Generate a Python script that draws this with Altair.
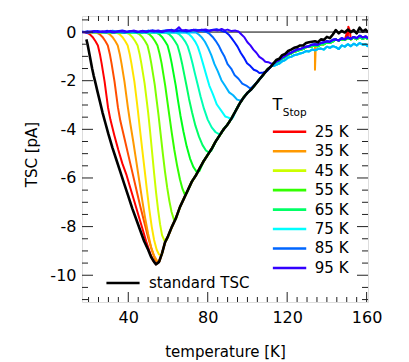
import altair as alt
import pandas as pd

FONT = "DejaVu Sans"
W, H = 286, 286
X_DOMAIN = [16.7, 160.7]
Y_DOMAIN = [-11.1, 0.66]

# ---------------- data ----------------
tstops = [25, 30, 35, 40, 45, 50, 55, 60, 65, 70, 75, 80, 85, 90, 95]
curve_colors = ["#ff0000", "#ff4d00", "#ff9900", "#ffe600", "#ccff00", "#80ff00", "#33ff00",
                "#00ff1a", "#00ff66", "#00ffb3", "#00ffff", "#00b3ff", "#0066ff", "#001aff", "#3300ff"]
tail_group = ["warm"] * 9 + ["cyan"] * 3 + ["blue"] * 3

legend_labels = ["25 K", "35 K", "45 K", "55 K", "65 K", "75 K", "85 K", "95 K"]
legend_colors = ["#ff0000", "#ff9900", "#ccff00", "#33ff00", "#00ff66", "#00ffff", "#0066ff", "#3300ff"]

# standard TSC, low-temperature flank
black_left = [(18.9, -0.3), (19.5, -0.5), (20.2, -0.8), (21.0, -1.15), (21.8, -1.5), (22.6, -1.8),
              (23.5, -2.1), (24.5, -2.45), (25.7, -2.85), (27.0, -3.3), (28.5, -3.75), (30.0, -4.2),
              (32.0, -4.75), (34.0, -5.25), (36.0, -5.75), (38.0, -6.25), (40.0, -6.75), (42.0, -7.25),
              (44.0, -7.7), (46.0, -8.15), (48.0, -8.6), (50.0, -8.95), (51.5, -9.25), (53.0, -9.45)]
# high-temperature flank shared by all curves after merging
flank = [(54, -9.55), (55.5, -9.45), (57, -9.1), (58.5, -8.65), (60, -8.4), (62, -8.0), (64, -7.65),
         (66, -7.2), (68, -6.85), (70, -6.5), (72, -6.15), (74, -5.9), (76, -5.6), (78, -5.3),
         (80, -5.05), (82, -4.8), (84, -4.5), (86, -4.25), (88, -4.0), (90, -3.8), (92, -3.55),
         (94, -3.25), (96, -2.95), (98, -2.7), (100, -2.5), (102, -2.35), (104, -2.15), (106, -1.95),
         (108, -1.75), (110, -1.55), (112, -1.4)]
tail_T = [113, 114.5, 116, 117.5, 119, 120.5, 122, 123.5, 125, 126.5, 128, 129.5, 131, 132.5, 134,
          135.5, 137, 138.5, 140, 141.5, 143, 144.5, 146, 147.5, 149, 150.5, 152, 153.5, 155, 156.5,
          158, 159.5, 160.7]
tail_black = [-1.3, -1.15, -1.1, -0.95, -0.9, -0.78, -0.72, -0.65, -0.62, -0.55, -0.55, -0.45, -0.42,
              -0.4, -0.38, -0.42, -0.3, -0.32, -0.2, -0.25, -0.1, 0.08, -0.05, 0.05, -0.02, 0.1, 0.0,
              0.08, -0.05, 0.18, 0.02, 0.1, -0.02]
tail_warm = [-1.35, -1.25, -1.2, -1.08, -1.02, -0.92, -0.88, -0.8, -0.78, -0.72, -0.7, -0.62, -0.6,
             -0.58, -0.55, -0.58, -0.5, -0.5, -0.42, -0.45, -0.38, -0.3, -0.35, -0.3, -0.32, -0.25,
             -0.3, -0.22, -0.3, -0.2, -0.28, -0.22, -0.3]
tail_cyan = [-1.4, -1.35, -1.3, -1.2, -1.15, -1.05, -1.02, -0.95, -0.92, -0.88, -0.85, -0.78, -0.8,
             -0.72, -0.75, -0.7, -0.68, -0.72, -0.6, -0.65, -0.58, -0.62, -0.7, -0.55, -0.6, -0.5,
             -0.58, -0.48, -0.55, -0.45, -0.52, -0.5, -0.6]
tail_blue = [-1.3, -1.22, -1.15, -1.05, -0.98, -0.9, -0.85, -0.78, -0.72, -0.7, -0.65, -0.6, -0.58,
             -0.52, -0.5, -0.52, -0.45, -0.42, -0.38, -0.4, -0.32, -0.3, -0.35, -0.25, -0.3, -0.22,
             -0.28, -0.2, -0.25, -0.15, -0.22, -0.18, -0.25]
spike_25 = [(150.0, -0.05), (150.8, 0.22), (151.6, 0.05)]
spike_35 = [(133.6, -0.55), (134.0, -1.55), (134.4, -0.6)]

c25 = [(16.8, 0.0), (19, -0.02), (20.5, -0.08), (22, -0.2), (23.5, -0.38), (24.7, -0.55), (25.7, -0.9),
       (26.6, -1.3), (27.4, -1.7), (28.1, -2.05), (29, -2.6), (29.8, -3.1), (31, -3.6), (33, -4.25),
       (35, -4.85), (37, -5.4), (39, -5.85), (41, -6.4), (43, -6.95), (45, -7.5), (47, -8.05),
       (49, -8.6), (51, -9.1), (52.5, -9.4), (54, -9.55)]
c30 = [(16.8, 0.0), (24, -0.02), (25.5, -0.08), (27, -0.2), (28.5, -0.38), (29.7, -0.55), (30.7, -0.9),
       (31.6, -1.3), (32.4, -1.7), (33.1, -2.05), (34, -2.6), (34.8, -3.1), (36, -3.65), (38, -4.35),
       (40, -5.05), (42, -5.75), (44, -6.45), (46, -7.15), (48, -7.8), (50, -8.45), (52, -9.0),
       (53.5, -9.35), (55, -9.5)]
c35 = [(16.8, 0.0), (29, -0.02), (30.5, -0.08), (32, -0.2), (33.5, -0.38), (34.7, -0.55), (35.7, -0.9),
       (36.6, -1.3), (37.4, -1.7), (38.1, -2.05), (39, -2.6), (39.8, -3.1), (41, -3.75), (42.5, -4.5),
       (44, -5.3), (45.5, -6.1), (47, -6.9), (48.5, -7.65), (50, -8.3), (51.5, -8.85), (53, -9.2),
       (54.5, -9.4), (55.8, -9.42)]
c40 = [(16.8, 0.0), (34, -0.02), (35.5, -0.08), (37, -0.2), (38.5, -0.38), (39.7, -0.55), (40.7, -0.9),
       (41.6, -1.3), (42.4, -1.7), (43.1, -2.05), (44, -2.65), (44.8, -3.2), (45.8, -3.95), (47, -4.8),
       (48.2, -5.65), (49.4, -6.5), (50.6, -7.3), (51.8, -8.0), (53, -8.55), (54.3, -8.95),
       (55.5, -9.15), (56.8, -9.18)]
c45 = [(16.8, 0.0), (39, -0.02), (40.5, -0.08), (42, -0.2), (43.5, -0.38), (44.7, -0.55), (45.7, -0.9),
       (46.6, -1.3), (47.4, -1.7), (48.2, -2.1), (49.1, -2.7), (50, -3.3), (51, -4.1), (52, -4.95),
       (53, -5.8), (54, -6.6), (55, -7.3), (56, -7.9), (57, -8.35), (58.3, -8.6), (59.3, -8.55)]
c50 = [(16.8, 0.0), (44, -0.02), (45.5, -0.08), (47, -0.2), (48.5, -0.38), (49.7, -0.55), (50.7, -0.9),
       (51.6, -1.3), (52.5, -1.75), (53.3, -2.15), (54.2, -2.75), (55.2, -3.4), (56.3, -4.2),
       (57.4, -5.0), (58.5, -5.75), (59.6, -6.4), (60.7, -6.95), (61.8, -7.4), (63, -7.72), (64, -7.7)]
c55 = [(16.8, 0.0), (49, -0.02), (50.5, -0.08), (52, -0.2), (53.5, -0.38), (54.7, -0.55), (55.8, -0.9),
       (56.8, -1.3), (57.7, -1.75), (58.6, -2.2), (59.6, -2.8), (60.7, -3.45), (61.9, -4.15),
       (63.2, -4.85), (64.6, -5.5), (66, -6.05), (67.3, -6.45), (68.5, -6.68), (69.5, -6.62)]
c60 = [(16.8, 0.0), (54, -0.02), (55.5, -0.08), (57, -0.2), (58.5, -0.38), (59.8, -0.55), (60.9, -0.9),
       (61.9, -1.3), (62.9, -1.75), (63.9, -2.2), (65, -2.8), (66.3, -3.45), (67.8, -4.1), (69.4, -4.7),
       (71.1, -5.2), (72.8, -5.55), (74.6, -5.77), (75.8, -5.72)]
c65 = [(16.8, 0.0), (59, -0.02), (60.5, -0.08), (62, -0.2), (63.5, -0.38), (64.8, -0.55), (66, -0.9),
       (67.1, -1.3), (68.2, -1.75), (69.3, -2.2), (70.6, -2.75), (72.1, -3.3), (73.8, -3.85),
       (75.6, -4.3), (77.4, -4.65), (79.1, -4.87), (80.6, -4.95), (81.8, -4.88)]
c70 = [(16.8, 0.0), (64, -0.02), (65.5, -0.08), (67, -0.2), (68.6, -0.38), (69.9, -0.58), (71.2, -0.92),
       (72.4, -1.3), (73.6, -1.72), (74.9, -2.15), (76.4, -2.65), (78.1, -3.15), (80, -3.6), (82, -3.92),
       (84, -4.12), (85.7, -4.2), (86.8, -4.15)]
c75 = [(16.8, 0.0), (69, -0.02), (70.5, -0.08), (72, -0.2), (73.6, -0.38), (75, -0.6), (76.4, -0.95),
       (77.8, -1.35), (79.2, -1.75), (80.8, -2.2), (82.6, -2.55), (84.6, -2.98), (86.7, -3.22),
       (88.8, -3.47), (90.5, -3.52), (91.8, -3.6), (92.8, -3.5)]
c80 = [(16.8, 0.0), (74, -0.02), (75.5, -0.1), (77, -0.22), (78.6, -0.4), (80.2, -0.65), (81.8, -0.95),
       (83.4, -1.32), (85.1, -1.62), (86.9, -1.98), (88.8, -2.22), (90.8, -2.48), (92.8, -2.6),
       (94.8, -2.78), (96.6, -2.82), (97.6, -2.76)]
c85 = [(16.8, 0.02), (20, -0.03), (23, 0.04), (26, 0.0), (29, -0.02), (32, 0.05), (35, 0.01), (38, -0.03),
       (41, 0.04), (44, 0.02), (47, -0.02), (50, 0.06), (53, 0.0), (56, 0.03), (59, 0.07), (62, 0.02),
       (65, 0.08), (68, 0.03), (71, 0.06), (74, 0.1), (77, 0.04),
       (79.5, 0.0), (81, -0.08), (82.5, -0.2), (84, -0.36), (85.5, -0.55), (87, -0.8), (88.5, -1.02),
       (90, -1.32), (91.8, -1.5), (93.6, -1.78), (95.5, -1.92), (97.4, -2.12), (99.4, -2.2),
       (101.4, -2.32), (102.5, -2.25)]
c90 = [(16.8, -0.02), (19.5, 0.03), (22, -0.01), (24.5, 0.04), (27, 0.0), (29.5, 0.05), (32, -0.02),
       (34.5, 0.03), (37, 0.06), (39.5, 0.01), (42, 0.04), (44.5, -0.01), (47, 0.05), (49.5, 0.02),
       (52, 0.07), (54.5, 0.03), (57, 0.0), (59.5, 0.06), (62, 0.09), (64.5, 0.04), (67, 0.07),
       (69.5, 0.02), (72, 0.08), (74.5, 0.05), (77, 0.1), (79.5, 0.04), (82, 0.08), (84.5, 0.12),
       (87, 0.05),
       (89, 0.0), (90.5, -0.1), (92, -0.25), (93.5, -0.42), (95, -0.6), (96.6, -0.85), (98.2, -1.05),
       (99.8, -1.28), (101.5, -1.4), (103.2, -1.55), (104.8, -1.6), (106, -1.68), (108, -1.66),
       (110, -1.6)]
c95 = [(16.8, 0.01), (19, -0.03), (21, 0.02), (23, 0.04), (25, -0.01), (27, 0.03), (29, 0.0), (31, 0.05),
       (33, -0.02), (35, 0.02), (37, 0.04), (39, 0.0), (41, 0.03), (43, 0.06), (45, 0.01), (47, 0.04),
       (49, -0.01), (51, 0.05), (53, 0.03), (55, 0.07), (57, 0.02), (59, 0.05), (61, 0.08), (63, 0.03),
       (64.5, 0.12), (65.5, 0.2), (67, 0.06), (69, 0.09), (71, 0.04), (73, 0.1), (75, 0.05), (77, 0.08),
       (79, 0.11), (81, 0.04), (83, 0.09), (85, 0.06), (87, 0.13), (88.5, 0.07), (90, 0.1), (92, 0.04),
       (94, 0.06),
       (95.5, 0.02), (97, -0.1), (98.5, -0.22), (100, -0.42), (101.5, -0.55), (103, -0.72),
       (104.5, -0.85), (106, -1.02), (107.5, -1.1), (109, -1.22), (110.5, -1.24), (112, -1.3)]
curves = [c25, c30, c35, c40, c45, c50, c55, c60, c65, c70, c75, c80, c85, c90, c95]
tails = {"warm": tail_warm, "cyan": tail_cyan, "blue": tail_blue}
spikes = {25: spike_25, 35: spike_35}

# tick positions
x_major = [40, 80, 120, 160]
x_minor = [20, 25, 30, 35, 45, 50, 55, 60, 65, 70, 75, 85, 90, 95, 100, 105, 110, 115, 125, 130,
           135, 140, 145, 150, 155]
y_major = [-10, -8, -6, -4, -2, 0]
y_minor = [-11, -10.5, -9.5, -9, -8.5, -7.5, -7, -6.5, -5.5, -5, -4.5, -3.5, -3, -2.5, -1.5, -1,
           -0.5, 0.5]


def assemble(own, tail_vals, extra=()):
    last = own[-1][0]
    pts = list(own)
    pts += [p for p in flank if last + 0.9 < p[0] < tail_T[0]]
    pts += [(t, v) for t, v in zip(tail_T, tail_vals) if t > last + 0.9]
    pts += list(extra)
    pts.sort(key=lambda p: p[0])
    return pd.DataFrame(pts, columns=["T", "I"])


# ---------------- encodings ----------------
x_scale = alt.Scale(domain=X_DOMAIN, nice=False, zero=False)
y_scale = alt.Scale(domain=Y_DOMAIN, nice=False, zero=False)

x_axis = alt.Axis(values=x_major, ticks=False, domain=False, grid=False, format="d",
                  labelFont=FONT, labelFontSize=16, labelColor="black", labelPadding=7,
                  labelFlush=False, labelOverlap=False,
                  title="temperature [K]", titleFont=FONT, titleFontSize=15,
                  titleFontWeight="normal", titleColor="black", titleY=54,
                  titleBaseline="alphabetic")
y_axis = alt.Axis(values=y_major, ticks=False, domain=False, grid=False,
                  labelExpr="datum.value < 0 ? '-' + (-datum.value) : '' + datum.value",
                  labelFont=FONT, labelFontSize=16, labelColor="black", labelPadding=6,
                  labelFlush=False, labelOverlap=False,
                  title="TSC [pA]", titleFont=FONT, titleFontSize=15, titleFontWeight="normal",
                  titleColor="black", titleX=-46, titleY=138, titleAngle=270,
                  titleAlign="center", titleBaseline="alphabetic")


def X(field):
    return alt.X(field, type="quantitative", scale=x_scale, axis=x_axis)


def Y(field):
    return alt.Y(field, type="quantitative", scale=y_scale, axis=y_axis)


layers = []

# zero line
zero_df = pd.DataFrame({"I": [0.0]})
layers.append(alt.Chart(zero_df).mark_rule(color="black", strokeWidth=1).encode(y=Y("I")))

# colored partial-heating curves
for s, col, grp, own in zip(tstops, curve_colors, tail_group, curves):
    df = assemble(own, tails[grp], spikes.get(s, ()))
    layers.append(alt.Chart(df).mark_line(color=col, strokeWidth=2, clip=True,
                                          strokeJoin="round").encode(x=X("T"), y=Y("I")))

# standard TSC
black_df = pd.DataFrame(black_left + flank + list(zip(tail_T, tail_black)), columns=["T", "I"])
layers.append(alt.Chart(black_df).mark_line(color="black", strokeWidth=2.6, clip=True,
                                            strokeJoin="round").encode(x=X("T"), y=Y("I")))

# inward ticks on all four sides
TICK = "#222222"
for vals, ln in ((y_major, 11), (y_minor, 6)):
    d = pd.DataFrame({"v": vals})
    layers.append(alt.Chart(d).mark_rule(color=TICK, strokeWidth=1).encode(
        y=Y("v"), x=alt.value(0), x2=alt.value(ln)))
    layers.append(alt.Chart(d).mark_rule(color=TICK, strokeWidth=1).encode(
        y=Y("v"), x=alt.value(W - ln), x2=alt.value(W)))
for vals, ln in ((x_major, 10), (x_minor, 5)):
    d = pd.DataFrame({"v": vals})
    layers.append(alt.Chart(d).mark_rule(color=TICK, strokeWidth=1).encode(
        x=X("v"), y=alt.value(H), y2=alt.value(H - ln)))
    layers.append(alt.Chart(d).mark_rule(color=TICK, strokeWidth=1).encode(
        x=X("v"), y=alt.value(0), y2=alt.value(ln)))

# legend (T_Stop)
LEG_X1, LEG_X2, LEG_TX = 112.8, 129.6, 133.9
LEG_TOP, LEG_STEP = -4.1, 0.8
leg_df = pd.DataFrame({
    "label": legend_labels,
    "x1": [LEG_X1] * len(legend_labels),
    "x2": [LEG_X2] * len(legend_labels),
    "tx": [LEG_TX] * len(legend_labels),
    "ly": [LEG_TOP - i * LEG_STEP for i in range(len(legend_labels))],
})
leg_color = alt.Color("label:N", scale=alt.Scale(domain=legend_labels, range=legend_colors),
                      legend=None)
layers.append(alt.Chart(leg_df).mark_rule(strokeWidth=2.6).encode(
    x=X("x1"), x2="x2", y=Y("ly"), color=leg_color))
layers.append(alt.Chart(leg_df).mark_text(align="left", baseline="middle", font=FONT,
                                          fontSize=15, color="black").encode(
    x=X("tx"), y=Y("ly"), text="label:N"))

title_df = pd.DataFrame({"x": [112.6], "y": [-3.21], "t": ["T"]})
sub_df = pd.DataFrame({"x": [117.8], "y": [-3.44], "t": ["Stop"]})
layers.append(alt.Chart(title_df).mark_text(align="left", baseline="alphabetic", font=FONT,
                                            fontSize=16, color="black").encode(
    x=X("x"), y=Y("y"), text="t:N"))
layers.append(alt.Chart(sub_df).mark_text(align="left", baseline="alphabetic", font=FONT,
                                          fontSize=10.5, color="black").encode(
    x=X("x"), y=Y("y"), text="t:N"))

# legend (standard TSC)
std_df = pd.DataFrame({"x1": [29.0], "x2": [45.7], "tx": [50.4], "y": [-10.32],
                       "t": ["standard TSC"]})
layers.append(alt.Chart(std_df).mark_rule(color="black", strokeWidth=2.6).encode(
    x=X("x1"), x2="x2", y=Y("y")))
layers.append(alt.Chart(std_df).mark_text(align="left", baseline="middle", font=FONT,
                                          fontSize=15, color="black").encode(
    x=X("tx"), y=Y("y"), text="t:N"))

chart = alt.layer(*layers).properties(
    width=W, height=H,
    autosize=alt.AutoSizeParams(type="none"),
    padding={"left": 74, "top": 8, "right": 33, "bottom": 60},
).configure_view(stroke="#222222", strokeWidth=1).configure(background="white")

chart.save("out.html", embed_options={"renderer": "svg", "actions": False})
